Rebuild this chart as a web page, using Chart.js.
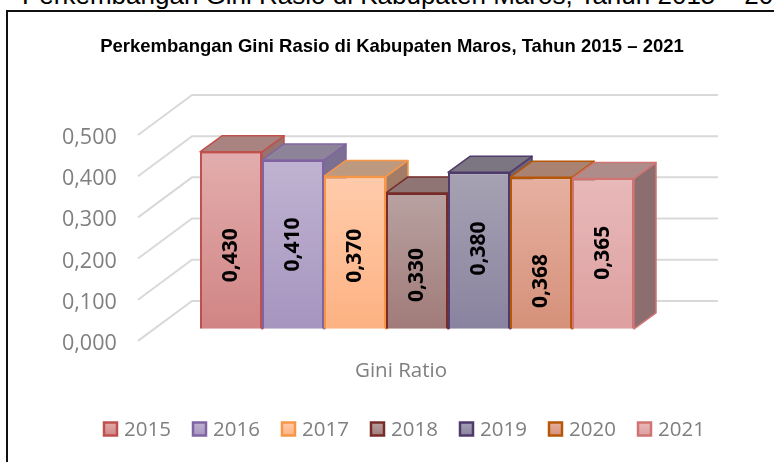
<!DOCTYPE html>
<html>
<head>
<meta charset="utf-8">
<script src="https://cdn.jsdelivr.net/npm/chart.js@4"></script>
<style>
html,body{margin:0;padding:0;background:#fff;width:774px;height:462px;overflow:hidden}
#head{position:absolute;left:22px;top:-20px;font:26px "Liberation Sans",Arial,sans-serif;color:#000;white-space:nowrap}
#frame{position:absolute;left:6px;top:9.5px;width:800px;height:500px;border-left:2px solid #111;border-top:2px solid #111}
#wrap{position:absolute;left:8px;top:0;width:768px;height:462px}
</style>
</head>
<body>
<div id="head">Perkembangan Gini Rasio di Kabupaten Maros, Tahun 2015 – 2021</div>
<div id="frame"></div>
<div id="wrap"><canvas id="c" width="768" height="462"></canvas></div>
<script>
const chartTitle = 'Perkembangan Gini Rasio di Kabupaten Maros, Tahun 2015 – 2021';
const categories = ['Gini Ratio'];
const years = ['2015','2016','2017','2018','2019','2020','2021'];
const giniValues = [0.430,0.410,0.370,0.330,0.380,0.368,0.365];
const yTicks = [0,0.1,0.2,0.3,0.4,0.5];
const borderColors = ['#c0504d','#8064a2','#f79646','#772c2a','#4f3b6b','#b65708','#cf7472'];
const gradTop = ['#e3adad','#c0b3d1','#ffcbab','#b8a2a1','#a6a2b2','#e6b0a0','#e8b9ba'];
const gradBottom = ['#d08584','#a695bf','#fdb282','#a17b79','#8a83a0','#d5917a','#dd9f9f'];
const topFaces = ['#a8837f','#8e8499','#bd9980','#8f7573','#7b7682','#aa8272','#ad8c8a'];
const sideFaces = ['#96736f','#7c7092','#a27c66','#7f6462','#6a6379','#94705f','#8d6e6e'];
const labelShift = [15,0,3,14,-2,28,-1];

const DX=22, DY=-16, WALL_DX=54, WALL_DY=-40, GRID_END=710;
const sans='"Open Sans",sans-serif';

const depthPlugin = {
  id:'depth',
  beforeDatasetsDraw(chart){
    const c=chart.ctx, t=chart.scales.yTicks;
    c.save();
    c.strokeStyle='#d9d9d9'; c.lineWidth=2;
    yTicks.forEach(v=>{
      const p=t.getPixelForValue(v), l=chart.chartArea.left;
      c.beginPath(); c.moveTo(l,p); c.lineTo(l+WALL_DX,p+WALL_DY); c.lineTo(GRID_END,p+WALL_DY); c.stroke();
    });
    c.lineJoin='round';
    years.forEach((y,i)=>{
      const el=chart.getDatasetMeta(i).data[0];
      const L=el.x-el.width/2,R=el.x+el.width/2,T=el.y,B=el.base;
      c.strokeStyle=borderColors[i]; c.lineWidth=1.5;
      c.fillStyle=sideFaces[i];
      c.beginPath(); c.moveTo(R,T); c.lineTo(R+DX,T+DY); c.lineTo(R+DX,B+DY); c.lineTo(R,B); c.closePath(); c.fill(); c.stroke();
      c.fillStyle=topFaces[i];
      c.beginPath(); c.moveTo(L,T); c.lineTo(L+DX,T+DY); c.lineTo(R+DX,T+DY); c.lineTo(R,T); c.closePath(); c.fill(); c.stroke();
    });
    c.restore();
  },
  afterDatasetsDraw(chart){
    const c=chart.ctx;
    c.save();
    c.font='bold 21px '+sans; c.fillStyle='#000'; c.textAlign='center'; c.textBaseline='middle';
    years.forEach((y,i)=>{
      const el=chart.getDatasetMeta(i).data[0];
      c.save();
      c.translate(el.x,(el.y+el.base)/2+labelShift[i]);
      c.rotate(-Math.PI/2);
      c.fillText(giniValues[i].toFixed(3).replace('.',','),0,0);
      c.restore();
    });
    c.restore();
  },
  afterDraw(chart){
    const c=chart.ctx;
    c.save();
    c.font='20.5px '+sans; c.textAlign='left'; c.textBaseline='middle';
    years.forEach((y,i)=>{
      const x=95+i*89, yy=429;
      const g=c.createLinearGradient(0,yy-7,0,yy+7);
      g.addColorStop(0,gradTop[i]); g.addColorStop(1,gradBottom[i]);
      c.fillStyle=g; c.strokeStyle=borderColors[i]; c.lineWidth=2.5;
      c.fillRect(x+1,yy-6.5,13,13); c.strokeRect(x+1,yy-6.5,13,13);
      c.fillStyle='#7f7f7f';
      c.fillText(y,x+21,yy+1);
    });
    c.restore();
  }
};

new Chart(document.getElementById('c'),{
  type:'bar',
  data:{
    labels:categories,
    datasets:years.map((y,i)=>({
      label:y,
      data:[giniValues[i]],
      yAxisID:'yBars',
      borderColor:borderColors[i],
      borderWidth:2,
      backgroundColor(ctx){
        const a=ctx.chart.scales.yBars;
        const t=a.getPixelForValue(giniValues[i]), b=a.getPixelForValue(0);
        if(!Number.isFinite(t)||!Number.isFinite(b)) return gradTop[i];
        const g=ctx.chart.ctx.createLinearGradient(0,t,0,b);
        g.addColorStop(0,gradTop[i]); g.addColorStop(1,gradBottom[i]);
        return g;
      }
    }))
  },
  plugins:[depthPlugin],
  options:{
    responsive:false,
    animation:false,
    devicePixelRatio:1,
    categoryPercentage:434/558,
    barPercentage:1,
    layout:{padding:{left:80,right:80,top:0,bottom:69.5}},
    plugins:{
      legend:{display:false},
      tooltip:{enabled:false},
      title:{display:true,text:chartTitle,color:'#000',
        font:{family:'"Liberation Sans",sans-serif',size:18.5,weight:'bold',lineHeight:1.2},
        padding:{top:36,bottom:76.8}}
    },
    scales:{
      x:{
        grid:{display:false},border:{display:false},
        ticks:{color:'#7f7f7f',font:{family:sans,size:20.5},padding:9.5,labelOffset:-16}
      },
      yTicks:{
        position:'left',min:0,max:0.5,
        grid:{display:false},border:{display:false},
        afterBuildTicks(s){s.ticks=yTicks.map(v=>({value:v}));},
        afterFit(s){s.width=50;},
        ticks:{color:'#7f7f7f',font:{family:sans,size:21.5},mirror:true,padding:-76,labelOffset:3,
          callback:v=>v.toFixed(3).replace('.',',')}
      },
      yBars:{
        display:false,min:-12/410,max:193/410
      }
    }
  }
});
</script>
</body>
</html>
